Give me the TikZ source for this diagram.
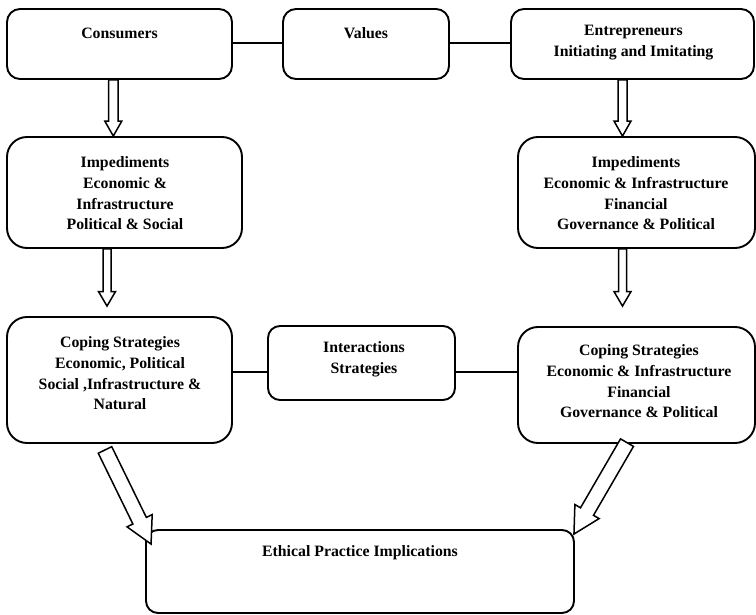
\documentclass[tikz,border=0pt]{standalone}
\usepackage{fontspec}
\setmainfont{Liberation Serif}
\usetikzlibrary{calc}
\tikzset{
  box/.style={draw, line width=1.9pt, inner sep=0pt, rounded corners=#1},
  box/.default=14pt,
  lbl/.style={align=center, inner sep=0pt, font=\fontsize{15.8pt}{20.7pt}\selectfont\bfseries},
  link/.style={draw, line width=1.9pt},
  fatarr/.style={draw, line width=1.5pt, line join=miter, fill=white}
}
\newcommand{\fatarrow}[6]{%
  \coordinate (#1h) at ($(#3)!#6!(#2)$);
  \draw[fatarr] ($(#2)!#4!90:(#3)$) -- ($(#1h)!#4!90:(#3)$) -- ($(#1h)!#5!90:(#3)$) -- (#3)
    -- ($(#1h)!#5!-90:(#3)$) -- ($(#1h)!#4!-90:(#3)$) -- ($(#2)!#4!-90:(#3)$) -- cycle;
}
\begin{document}
\begin{tikzpicture}[x=1pt, y=-1pt]
\useasboundingbox (0,0) rectangle (756,615);
% boxes
\node[box=13pt, minimum width=225pt, minimum height=70pt] (cons) at (119.5,44) {};
\node[box=13pt, minimum width=166pt, minimum height=70pt] (vals) at (366,44) {};
\node[box=13pt, minimum width=243pt, minimum height=70pt] (entr) at (632.5,44) {};
\node[box=20pt, minimum width=235pt, minimum height=111pt] (impL) at (124.5,192.5) {};
\node[box=20pt, minimum width=237pt, minimum height=111pt] (impR) at (636.5,192.5) {};
\node[box=20pt, minimum width=225pt, minimum height=126pt] (copL) at (119.5,380) {};
\node[box=12pt, minimum width=187pt, minimum height=74pt] (inter) at (361.5,363) {};
\node[box=20pt, minimum width=237pt, minimum height=116pt] (copR) at (636.5,385) {};
\node[box=12pt, minimum width=428pt, minimum height=83pt] (eth) at (360,571.5) {};
% texts
\node[lbl] (consT) at (119.5,33) {Consumers};
\node[lbl] (valsT) at (366,33) {Values};
\node[lbl] (entrT) at (633.5,42.5) {Entrepreneurs\\Initiating and Imitating};
\node[lbl] (impLT) at (125,193.5) {Impediments\\Economic \&\\Infrastructure\\Political \& Social};
\node[lbl] (impRT) at (636,193.5) {Impediments\\Economic \& Infrastructure\\Financial\\Governance \& Political};
\node[lbl] (copLT) at (120,373.5) {Coping Strategies\\Economic, Political\\Social ,Infrastructure \&\\Natural};
\node[lbl] (interT) at (364,359.5) {Interactions\\Strategies};
\node[lbl] (copRT) at (639,381.5) {Coping Strategies\\Economic \& Infrastructure\\Financial\\Governance \& Political};
\node[lbl] (ethT) at (360,553) {Ethical Practice Implications};
% plain connectors
\draw[link] ([yshift=1pt]cons.east) -- ([yshift=1pt]cons.east -| vals.west);
\draw[link] ([yshift=1pt]vals.east) -- ([yshift=1pt]vals.east -| entr.west);
\draw[link] ([yshift=8.3pt]copL.east) -- ([yshift=8.3pt]copL.east -| inter.west);
\draw[link] ([yshift=-8.7pt]inter.east) -- ([yshift=-8.7pt]inter.east -| copR.west);
% fat arrows
\coordinate (a1s) at ([xshift=-6.2pt]cons.south);
\coordinate (a1e) at (a1s |- impL.north);
\fatarrow{a1}{a1s}{a1e}{4.8pt}{8.5pt}{15pt}
\coordinate (a2s) at ([xshift=-10pt]entr.south);
\coordinate (a2e) at (a2s |- impR.north);
\fatarrow{a2}{a2s}{a2e}{4.5pt}{8.5pt}{15pt}
\coordinate (a3s) at ([xshift=-17.5pt]impL.south);
\coordinate (a3t) at ([yshift=10pt]copL.north);
\coordinate (a3e) at (a3s |- a3t);
\fatarrow{a3}{a3s}{a3e}{4pt}{8.5pt}{14.5pt}
\coordinate (a4s) at ([xshift=-14pt]impR.south);
\coordinate (a4t) at ([yshift=20pt]copR.north);
\coordinate (a4e) at (a4s |- a4t);
\fatarrow{a4}{a4s}{a4e}{4pt}{8.5pt}{14.5pt}
\coordinate (a5s) at ([xshift=-14.5pt, yshift=-6pt]copL.south);
\coordinate (a5e) at ([xshift=6pt, yshift=-15pt]eth.north west);
\fatarrow{a5}{a5s}{a5e}{7.5pt}{14pt}{26pt}
\coordinate (a6s) at ([xshift=-9.5pt, yshift=1.3pt]copR.south);
\coordinate (a6e) at ([xshift=-1pt, yshift=-5pt]eth.north east);
\fatarrow{a6}{a6s}{a6e}{7.5pt}{14pt}{26pt}
\end{tikzpicture}
\end{document}
